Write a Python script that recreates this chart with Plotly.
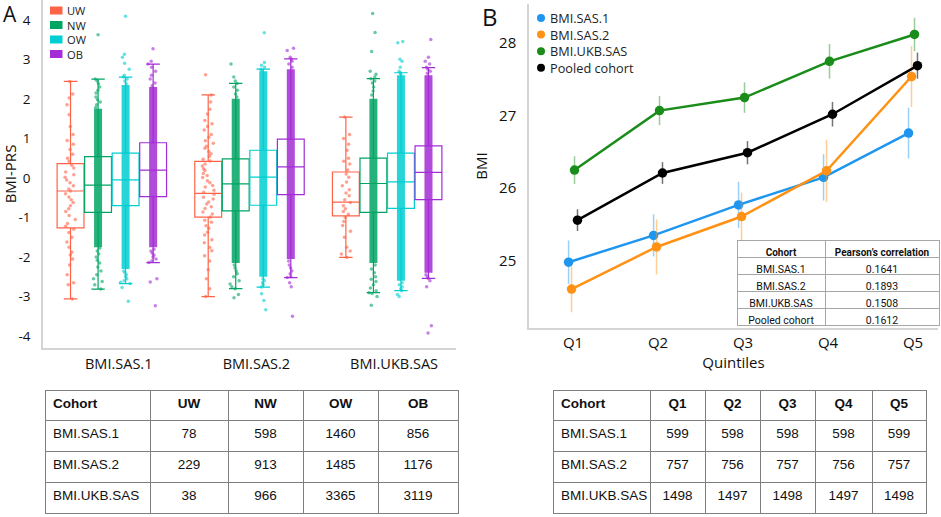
import plotly.graph_objects as go

W, H = 941, 517

# ---------------- panel A data ----------------
cohorts = ["BMI.SAS.1", "BMI.SAS.2", "BMI.UKB.SAS"]
bmi_classes = ["UW", "NW", "OW", "OB"]
class_colors = ["#FF6347", "#00A564", "#00CED1", "#A32CD4"]
prs_ticks = [-4, -3, -2, -1, 0, 1, 2, 3, 4]

# box stats, rows = class (UW, NW, OW, OB), cols = cohort
prs_lowerfence = [[-3.06, -3.00, -2.01], [-2.81, -2.80, -2.90], [-2.67, -2.76, -2.85], [-2.14, -2.52, -2.54]]
prs_q1 = [[-1.26, -0.99, -0.96], [-0.87, -0.83, -0.87], [-0.70, -0.69, -0.77], [-0.47, -0.42, -0.55]]
prs_median = [[-0.33, -0.39, -0.61], [-0.18, -0.15, -0.14], [-0.05, 0.02, -0.10], [0.20, 0.28, 0.14]]
prs_q3 = [[0.36, 0.42, 0.15], [0.54, 0.48, 0.50], [0.63, 0.70, 0.63], [0.89, 0.98, 0.81]]
prs_upperfence = [[2.44, 2.10, 1.54], [2.50, 2.39, 2.51], [2.55, 2.75, 2.66], [2.88, 3.01, 2.79]]

# solid part of the point clouds (None = sparse group, points only)
dense_low = [[None, None, None], [-1.75, -2.15, -2.15], [-2.3, -2.5, -2.6], [-1.75, -2.05, -2.4]]
dense_high = [[None, None, None], [1.75, 2.0, 2.0], [2.35, 2.7, 2.6], [2.3, 2.75, 2.6]]

# individual points (sparse groups + tails of the dense ones)
pts_uw = [
    [2.44, 2.12, 2.02, 1.85, 1.6, 1.3, 1.1, 0.95, 0.85, 0.72, 0.6, 0.5, 0.42, 0.32, 0.25, 0.15, 0.08,
     0.02, -0.05, -0.12, -0.2, -0.28, -0.33, -0.4, -0.48, -0.55, -0.62, -0.7, -0.78, -0.85, -0.95,
     -1.05, -1.15, -1.22, -1.3, -1.38, -1.5, -1.62, -1.75, -1.88, -1.95, -2.05, -2.2, -2.45, -2.65,
     -2.7, -3.06],
    [2.61, 2.1, 1.92, 1.74, 1.62, 1.45, 1.37, 1.3, 1.21, 1.1, 1.03, 0.94, 0.88, 0.8, 0.75, 0.67, 0.61,
     0.55, 0.47, 0.43, 0.35, 0.3, 0.23, 0.19, 0.11, 0.06, 0.01, -0.07, -0.12, -0.19, -0.23, -0.31,
     -0.36, -0.41, -0.49, -0.53, -0.61, -0.66, -0.73, -0.77, -0.86, -0.91, -0.99, -1.07, -1.12,
     -1.21, -1.27, -1.37, -1.44, -1.56, -1.64, -1.76, -1.84, -1.97, -2.1, -2.32, -2.55, -2.8, -3.0],
    [1.54, 1.1, 1.0, 0.85, 0.7, 0.5, 0.42, 0.35, 0.2, 0.1, 0.02, -0.1, -0.2, -0.3, -0.38, -0.45,
     -0.55, -0.62, -0.7, -0.78, -0.85, -0.92, -1.0, -1.1, -1.2, -1.35, -1.5, -1.75, -1.85, -1.92,
     -2.01],
]
pts_nw = [
    [3.62, 2.5, 2.45, 2.38, 2.3, 2.22, 2.15, 2.05, 1.98, 1.92, 1.85, 1.78, -1.78, -1.85, -1.92,
     -2.0, -2.08, -2.15, -2.25, -2.35, -2.45, -2.55, -2.62, -2.7, -2.81],
    [2.88, 2.55, 2.45, 2.39, 2.3, 2.22, 2.12, 2.05, -2.2, -2.28, -2.35, -2.42, -2.5, -2.6, -2.68,
     -2.75, -2.8, -2.95, -3.03],
    [4.16, 3.68, 3.2, 2.7, 2.62, 2.55, 2.51, 2.45, 2.4, 2.3, 2.2, 2.1, -2.2, -2.3, -2.4, -2.5,
     -2.56, -2.62, -2.7, -2.78, -2.85, -2.9, -2.92, -3.0, -3.22],
]
pts_ow = [
    [4.09, 3.13, 3.05, 2.9, 2.75, 2.6, 2.55, 2.5, 2.45, 2.38, -2.35, -2.4, -2.45, -2.5, -2.55, -2.6,
     -2.64, -2.67, -2.77, -3.12],
    [3.67, 2.92, 2.85, 2.8, 2.75, 2.72, -2.55, -2.6, -2.65, -2.7, -2.76, -2.93, -3.1, -3.33],
    [3.45, 3.42, 3.0, 2.95, 2.8, 2.7, 2.66, 2.62, -2.65, -2.7, -2.75, -2.8, -2.85, -2.95, -3.0],
]
pts_ob = [
    [3.27, 2.95, 2.88, 2.8, 2.7, 2.6, 2.5, 2.4, 2.33, -1.8, -1.85, -1.9, -1.95, -2.0, -2.05, -2.1,
     -2.14, -2.55, -2.63, -3.23],
    [3.28, 3.22, 3.05, 3.01, 2.95, 2.88, 2.8, -2.1, -2.2, -2.28, -2.35, -2.42, -2.5, -2.52, -2.65,
     -2.75, -3.5],
    [3.5, 3.05, 2.95, 2.88, 2.8, 2.75, 2.7, 2.65, -2.45, -2.5, -2.54, -2.6, -2.75, -3.74, -3.92],
]
class_points = [pts_uw, pts_nw, pts_ow, pts_ob]

# group sizes table
n_uw = [78, 229, 38]
n_nw = [598, 913, 966]
n_ow = [1460, 1485, 3365]
n_ob = [856, 1176, 3119]

# ---------------- panel B data ----------------
quintiles = ["Q1", "Q2", "Q3", "Q4", "Q5"]
series_names = ["BMI.SAS.1", "BMI.SAS.2", "BMI.UKB.SAS", "Pooled cohort"]
bmi_sas1 = [24.98, 25.35, 25.77, 26.15, 26.76]
bmi_sas2 = [24.61, 25.19, 25.61, 26.24, 27.54]
bmi_ukb = [26.25, 27.07, 27.25, 27.75, 28.12]
bmi_pooled = [25.56, 26.21, 26.49, 27.02, 27.69]
err_sas1 = [0.30, 0.29, 0.32, 0.32, 0.35]
err_sas2 = [0.32, 0.38, 0.33, 0.43, 0.42]
err_ukb = [0.19, 0.20, 0.21, 0.24, 0.23]
err_pooled = [0.15, 0.15, 0.16, 0.17, 0.18]
series_colors = ["#1E96F0", "#FF9214", "#1A8C1A", "#000000"]
err_colors = ["rgba(30,150,240,0.45)", "rgba(255,146,20,0.45)", "rgba(26,140,26,0.45)", "rgba(0,0,0,0.55)"]
bmi_ticks = [25, 26, 27, 28]

pearson_r = ["0.1641", "0.1893", "0.1508", "0.1612"]

n_sas1_q = [599, 598, 598, 598, 599]
n_sas2_q = [757, 756, 757, 756, 757]
n_ukb_q = [1498, 1497, 1498, 1497, 1498]


def px(x):
    return x / W


def py(y):
    return 1 - y / H


fig = go.Figure()

# ---------- panel A ----------
slot = 0.2
for k, cls in enumerate(bmi_classes):
    pos = [i + (k - 1.5) * slot for i in range(len(cohorts))]
    col = class_colors[k]
    # jittered points
    xs, ys = [], []
    for i, vals in enumerate(class_points[k]):
        xs += [pos[i]] * len(vals)
        ys += vals
    fig.add_trace(go.Box(
        x=xs, y=ys, boxpoints="all", jitter=0.45, pointpos=0, width=0.195,
        line=dict(width=0, color="rgba(0,0,0,0)"), fillcolor="rgba(0,0,0,0)",
        marker=dict(color=col, size=3.5, opacity=0.6),
        hoverinfo="y", showlegend=False, xaxis="x", yaxis="y"))
    # box outlines
    fig.add_trace(go.Box(
        x=pos, q1=prs_q1[k], median=prs_median[k], q3=prs_q3[k],
        lowerfence=prs_lowerfence[k], upperfence=prs_upperfence[k],
        width=0.195, whiskerwidth=0.5, boxpoints=False,
        line=dict(color=col, width=1.2), fillcolor="rgba(255,255,255,0)",
        name=cls, showlegend=False, xaxis="x", yaxis="y"))

for k, cls in enumerate(bmi_classes):
    pos = [i + (k - 1.5) * slot for i in range(len(cohorts))]
    bx, by = [], []
    for i in range(len(cohorts)):
        if dense_low[k][i] is None:
            continue
        bx += [pos[i], pos[i], None]
        by += [dense_low[k][i], dense_high[k][i], None]
    if bx:
        fig.add_trace(go.Scatter(
            x=bx, y=by, mode="lines", line=dict(color=class_colors[k], width=8),
            opacity=0.85, hoverinfo="skip", showlegend=False, xaxis="x", yaxis="y"))

# ---------- panel B ----------
bmi_series = [bmi_sas1, bmi_sas2, bmi_ukb, bmi_pooled]
err_series = [err_sas1, err_sas2, err_ukb, err_pooled]
dodge = 0.035
for s, name in enumerate(series_names):
    xq = [q + (s - 1.5) * dodge for q in range(len(quintiles))]
    fig.add_trace(go.Scatter(
        x=xq, y=bmi_series[s], mode="lines+markers", name=name,
        line=dict(color=series_colors[s], width=2.5),
        marker=dict(color=series_colors[s], size=9.5),
        error_y=dict(type="data", array=err_series[s], color=err_colors[s], thickness=1.5, width=0),
        showlegend=False, xaxis="x2", yaxis="y2"))

# ---------- tables ----------
line_col = "#7f7f7f"
tfont = dict(family="Liberation Sans, Arial", size=13.5, color="#111")
hfont = dict(family="Liberation Sans, Arial", size=13.5, color="#111", weight="bold")
fig.add_trace(go.Table(
    domain=dict(x=[px(45), px(458)], y=[py(514), py(390)]),
    columnwidth=[105, 78, 75, 75, 80],
    header=dict(values=["Cohort"] + bmi_classes,
                align=["left", "center", "center", "center", "center"],
                font=hfont, height=30, fill_color="white", line=dict(color=line_col, width=1)),
    cells=dict(values=[cohorts, n_uw, n_nw, n_ow, n_ob],
               align=["left", "center", "center", "center", "center"],
               font=tfont, height=31, fill_color="white", line=dict(color=line_col, width=1))))

q_cols = [[n_sas1_q[j], n_sas2_q[j], n_ukb_q[j]] for j in range(len(quintiles))]
fig.add_trace(go.Table(
    domain=dict(x=[px(553), px(926)], y=[py(514), py(390)]),
    columnwidth=[97, 55, 55, 55, 57, 54],
    header=dict(values=["Cohort"] + quintiles,
                align=["left"] + ["center"] * 5,
                font=hfont, height=30, fill_color="white", line=dict(color=line_col, width=1)),
    cells=dict(values=[cohorts] + q_cols,
               align=["left"] + ["center"] * 5,
               font=tfont, height=31, fill_color="white", line=dict(color=line_col, width=1))))

# inset correlation table
fig.add_trace(go.Table(
    domain=dict(x=[px(737), px(939)], y=[py(330), py(240)]),
    columnwidth=[88, 114],
    header=dict(values=["Cohort", "Pearson’s correlation"], align="center",
                font=dict(family="Roboto", size=10, color="#111", weight="bold"), height=17,
                fill_color="white", line=dict(color="#a6a6a6", width=1)),
    cells=dict(values=[series_names, pearson_r], align="center",
               font=dict(family="Roboto", size=10.5, color="#111"), height=17,
               fill_color="white", line=dict(color="#a6a6a6", width=1))))

# ---------- legends (hand-made for the tight line spacing) ----------
shapes = []
annotations = []
leg_a_top, leg_a_step = 10.5, 14.5
for k, cls in enumerate(bmi_classes):
    yc = leg_a_top + leg_a_step * k
    shapes.append(dict(type="rect", xref="paper", yref="paper", x0=px(50), x1=px(62.5),
                       y0=py(yc + 4), y1=py(yc - 4), fillcolor=class_colors[k], line=dict(width=0)))
annotations.append(dict(text="<br>".join(bmi_classes), x=px(65),
                        y=py(leg_a_top + leg_a_step * 1.5), xref="paper", yref="paper",
                        xanchor="left", yanchor="middle", align="left", showarrow=False,
                        font=dict(family="Open Sans", size=leg_a_step / 1.3, color="#222")))

leg_b_top, leg_b_step = 18, 16.6
for s, name in enumerate(series_names):
    yc = leg_b_top + leg_b_step * s
    shapes.append(dict(type="circle", xref="paper", yref="paper", x0=px(537), x1=px(545),
                       y0=py(yc + 4), y1=py(yc - 4), fillcolor=series_colors[s], line=dict(width=0)))
annotations.append(dict(text="<br>".join(series_names), x=px(548),
                        y=py(leg_b_top + leg_b_step * 1.5), xref="paper", yref="paper",
                        xanchor="left", yanchor="middle", align="left", showarrow=False,
                        font=dict(family="Open Sans", size=leg_b_step / 1.3, color="#222")))

annotations.append(dict(text="A", x=px(10), y=py(14), xref="paper", yref="paper", showarrow=False,
                        xanchor="center", yanchor="middle",
                        font=dict(family="Open Sans", size=21, color="#111")))
annotations.append(dict(text="B", x=px(490), y=py(17), xref="paper", yref="paper", showarrow=False,
                        xanchor="center", yanchor="middle",
                        font=dict(family="Open Sans", size=24, color="#111")))

axis_line = dict(showline=True, linecolor="#d4d4d4", linewidth=1.5, showgrid=False,
                 zeroline=False, ticks="", mirror=False)

fig.update_layout(
    width=W, height=H, margin=dict(l=0, r=0, t=0, b=0),
    paper_bgcolor="white", plot_bgcolor="white", showlegend=False,
    font=dict(family="Open Sans", color="#111"),
    xaxis=dict(domain=[px(43), px(456)], range=[-0.5, 2.5], tickvals=[i + 0.05 for i in range(3)],
               ticktext=cohorts, tickfont=dict(size=14.5), ticklabelstandoff=2, anchor="y", **axis_line),
    yaxis=dict(domain=[py(348), 1.0], range=[-4.3, 4.5], tickvals=prs_ticks,
               ticktext=[str(t) for t in prs_ticks], tickfont=dict(size=13.5), ticklabelstandoff=8,
               title=dict(text="BMI-PRS", font=dict(size=15), standoff=6), anchor="x", **axis_line),
    xaxis2=dict(domain=[px(529), px(938)], range=[-0.518, 4.294], tickvals=list(range(5)),
                ticktext=quintiles, tickfont=dict(size=15), ticklabelstandoff=0,
                title=dict(text="Quintiles", font=dict(size=15), standoff=3), anchor="y2", **axis_line),
    yaxis2=dict(domain=[py(328), py(4)], range=[24.073, 28.54], tickvals=bmi_ticks,
                tickfont=dict(size=15), ticklabelstandoff=8,
                title=dict(text="BMI", font=dict(size=15), standoff=8), anchor="x2", **axis_line),
    shapes=shapes, annotations=annotations,
)

fig.write_html("out.html", config={"displayModeBar": False},
               post_script="document.body.style.margin='0px';")
